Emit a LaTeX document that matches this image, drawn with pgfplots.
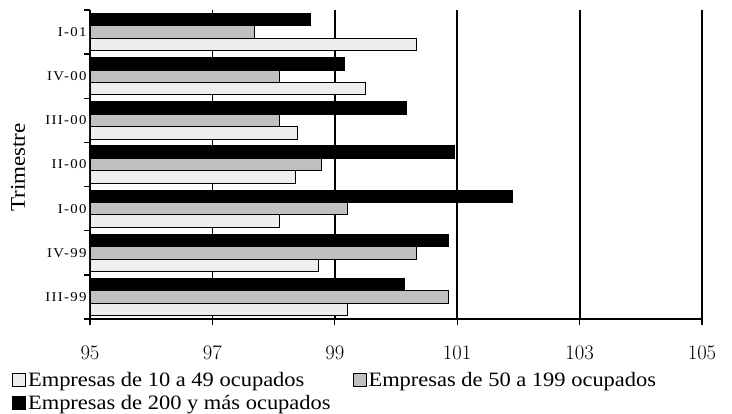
\documentclass[border=0pt]{standalone}
\usepackage{fontspec}
\setmainfont{Liberation Serif}[FakeStretch=1.1]
\usepackage{pgfplots}
\pgfplotsset{compat=1.18}
\definecolor{lightbar}{HTML}{EEEEEE}
\definecolor{midbar}{HTML}{C0C0C0}

\begin{document}
\begin{tikzpicture}
\useasboundingbox (-90bp,-95bp) rectangle (642bp,319bp);
\begin{axis}[
  scale only axis, width=612bp, height=309bp,
  at={(0,0)}, anchor=south west,
  xbar, bar width=12.4bp,
  xmin=95, xmax=105, xtick={95,97,...,105},
  ymin=-0.5, ymax=6.5,
  ytick={-0.5,0.5,...,6.5}, yticklabels={},
  extra y ticks={0,1,2,3,4,5,6},
  extra y tick labels={III-99,IV-99,I-00,II-00,III-00,IV-00,I-01},
  extra y tick style={major tick length=0pt,
    yticklabel style={font=\fontsize{13.5}{14}\selectfont\addfontfeature{LetterSpace=10}}},
  axis x line*=bottom, axis y line*=left,
  xmajorgrids, major grid style={black, line width=1.8bp},
  axis line style={black, line width=1.3bp},
  tick style={black, line width=1.3bp},
  tick align=outside, major tick length=6bp,
  xticklabel style={font=\fontsize{20.5}{20}\selectfont, yshift=-18bp},
  ylabel={Trimestre},
  every axis y label/.style={font=\fontsize{21}{21}\selectfont,
    at={(axis description cs:-0.1176,0.49)}, anchor=center, rotate=90},
  every axis plot post/.append style={draw=black, line width=0.9bp,
    legend image code/.code={\draw[##1, draw=black, line width=0.9bp] (0bp,-6.5bp) rectangle (13bp,6.5bp);}},
  legend columns=2,
  legend style={at={(axis description cs:-0.1275,-0.165)}, anchor=north west,
    draw=none, fill=none, inner sep=0pt,
    font=\fontsize{20.5}{20}\selectfont,
    /tikz/every even column/.append style={column sep=20bp},
    row sep=3bp},
  legend cell align=left,
]
\addplot[fill=lightbar, bar shift=-12.4bp] coordinates {
  (99.21,0) (98.73,1) (98.10,2) (98.36,3) (98.39,4) (99.50,5) (100.33,6)};
\addplot[fill=midbar, bar shift=0bp] coordinates {
  (100.85,0) (100.33,1) (99.21,2) (98.79,3) (98.09,4) (98.09,5) (97.68,6)};
\addplot[fill=black, bar shift=12.4bp] coordinates {
  (100.14,0) (100.86,1) (101.91,2) (100.96,3) (100.17,4) (99.16,5) (98.61,6)};
\legend{Empresas de 10 a 49 ocupados, Empresas de 50 a 199 ocupados, Empresas de 200 y más ocupados}
\end{axis}
\end{tikzpicture}
\end{document}
